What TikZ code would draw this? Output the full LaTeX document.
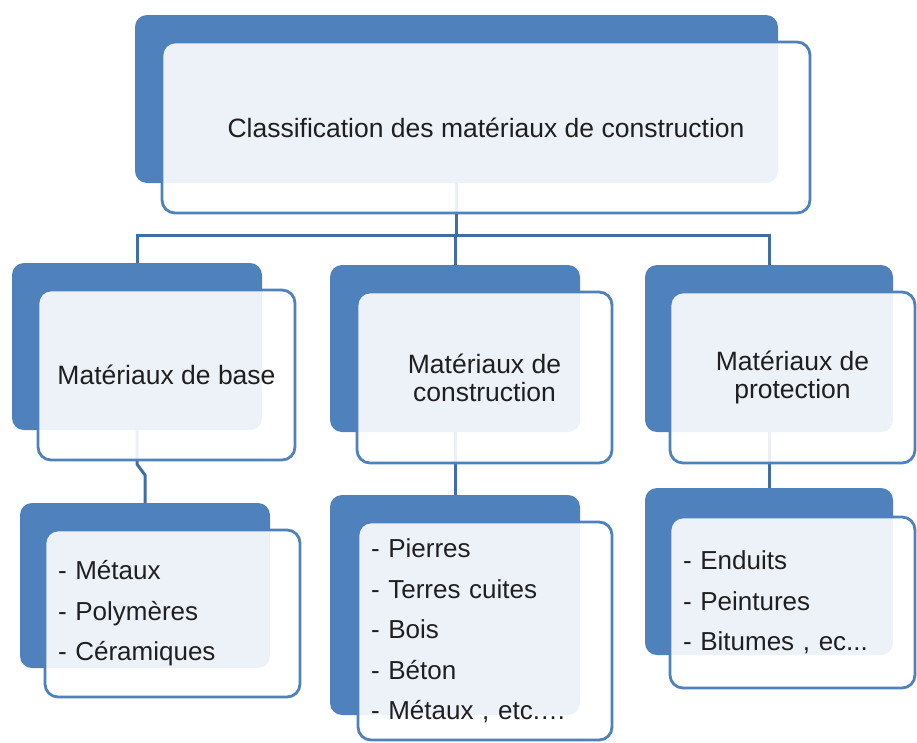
\documentclass[tikz,border=0pt]{standalone}
\usepackage{fontspec}
\setmainfont{Liberation Sans}
\usepackage{xcolor}
\usepackage{tikz}
\usetikzlibrary{positioning}
\pgfdeclarelayer{backlayer}
\pgfdeclarelayer{edgelayer}
\pgfsetlayers{backlayer,edgelayer,main}
\definecolor{boxblue}{HTML}{4F81BD}
\definecolor{lineblue}{HTML}{3F6EA6}
\tikzset{
    backbox/.style = {fill=boxblue, rounded corners=12pt, inner sep=0pt},
    frontbox/.style = {draw=boxblue, line width=2.8pt, fill=white, fill opacity=0.9, text opacity=1,
        rounded corners=13pt, inner sep=0pt, align=center, text=black!88,
        font=\fontsize{26.5}{28}\selectfont},
    listbox/.style = {frontbox, align=left, inner xsep=13pt, font=\fontsize{26}{40.5}\selectfont},
    link/.style = {draw=lineblue, line width=3pt}
}

\begin{document}
\begin{tikzpicture}[x=1pt, y=-1pt]
    \useasboundingbox (0, 0) rectangle (917, 742);
    \begin{pgfonlayer}{backlayer}
        \node [backbox, minimum width=643, minimum height=168] (0) at (456.5, 99) {};
        \node [backbox, minimum width=250, minimum height=167] (1) at (137, 346.5) {};
        \node [backbox, minimum width=250, minimum height=167] (2) at (455, 348.5) {};
        \node [backbox, minimum width=248, minimum height=167] (3) at (769, 348.5) {};
        \node [backbox, minimum width=250, minimum height=165] (4) at (145, 585.5) {};
        \node [backbox, minimum width=250, minimum height=220] (5) at (455, 605) {};
        \node [backbox, minimum width=248, minimum height=167] (6) at (769, 571.5) {};
    \end{pgfonlayer}
    \coordinate (7) at (456.5, 235);
    \coordinate (8) at (145, 475);
    \begin{pgfonlayer}{edgelayer}
        % links run from back box to back box, under the front boxes
        \draw [link] (0.south) to (7);
        \draw [link] (1.north) |- (7) -| (3.north);
        \draw [link] (2.north) |- (7);
        \draw [link] (1.south) -- ++(0, 34) -- (8) -- (4.north);
        \draw [link] (2.south) to (5.north);
        \draw [link] (3.south) to (6.north);
    \end{pgfonlayer}
    \node [frontbox, minimum width=648, minimum height=171] (10) at (486, 127.5) {Classification des matériaux de construction};
    \node [frontbox, minimum width=257, minimum height=170] (11) at (166.5, 375) {Matériaux de base};
    \node [frontbox, minimum width=255, minimum height=171] (12) at (484.5, 377.5) {Matériaux de\\construction};
    \node [frontbox, minimum width=245, minimum height=171] (13) at (792.5, 377.5) {Matériaux de\\protection};
    \node [listbox, text width=229, minimum height=167] (14) at (172.5, 613.5) {- Métaux\\- Polymères\\- Céramiques};
    \node [listbox, text width=228, minimum height=218] (15) at (485, 631) {- Pierres\\- Terres cuites\\- Bois\\- Béton\\- Métaux , etc.…};
    \node [listbox, text width=219, minimum height=171] (16) at (792.5, 602.5) {- Enduits\\- Peintures\\- Bitumes , ec...};
\end{tikzpicture}
\end{document}
